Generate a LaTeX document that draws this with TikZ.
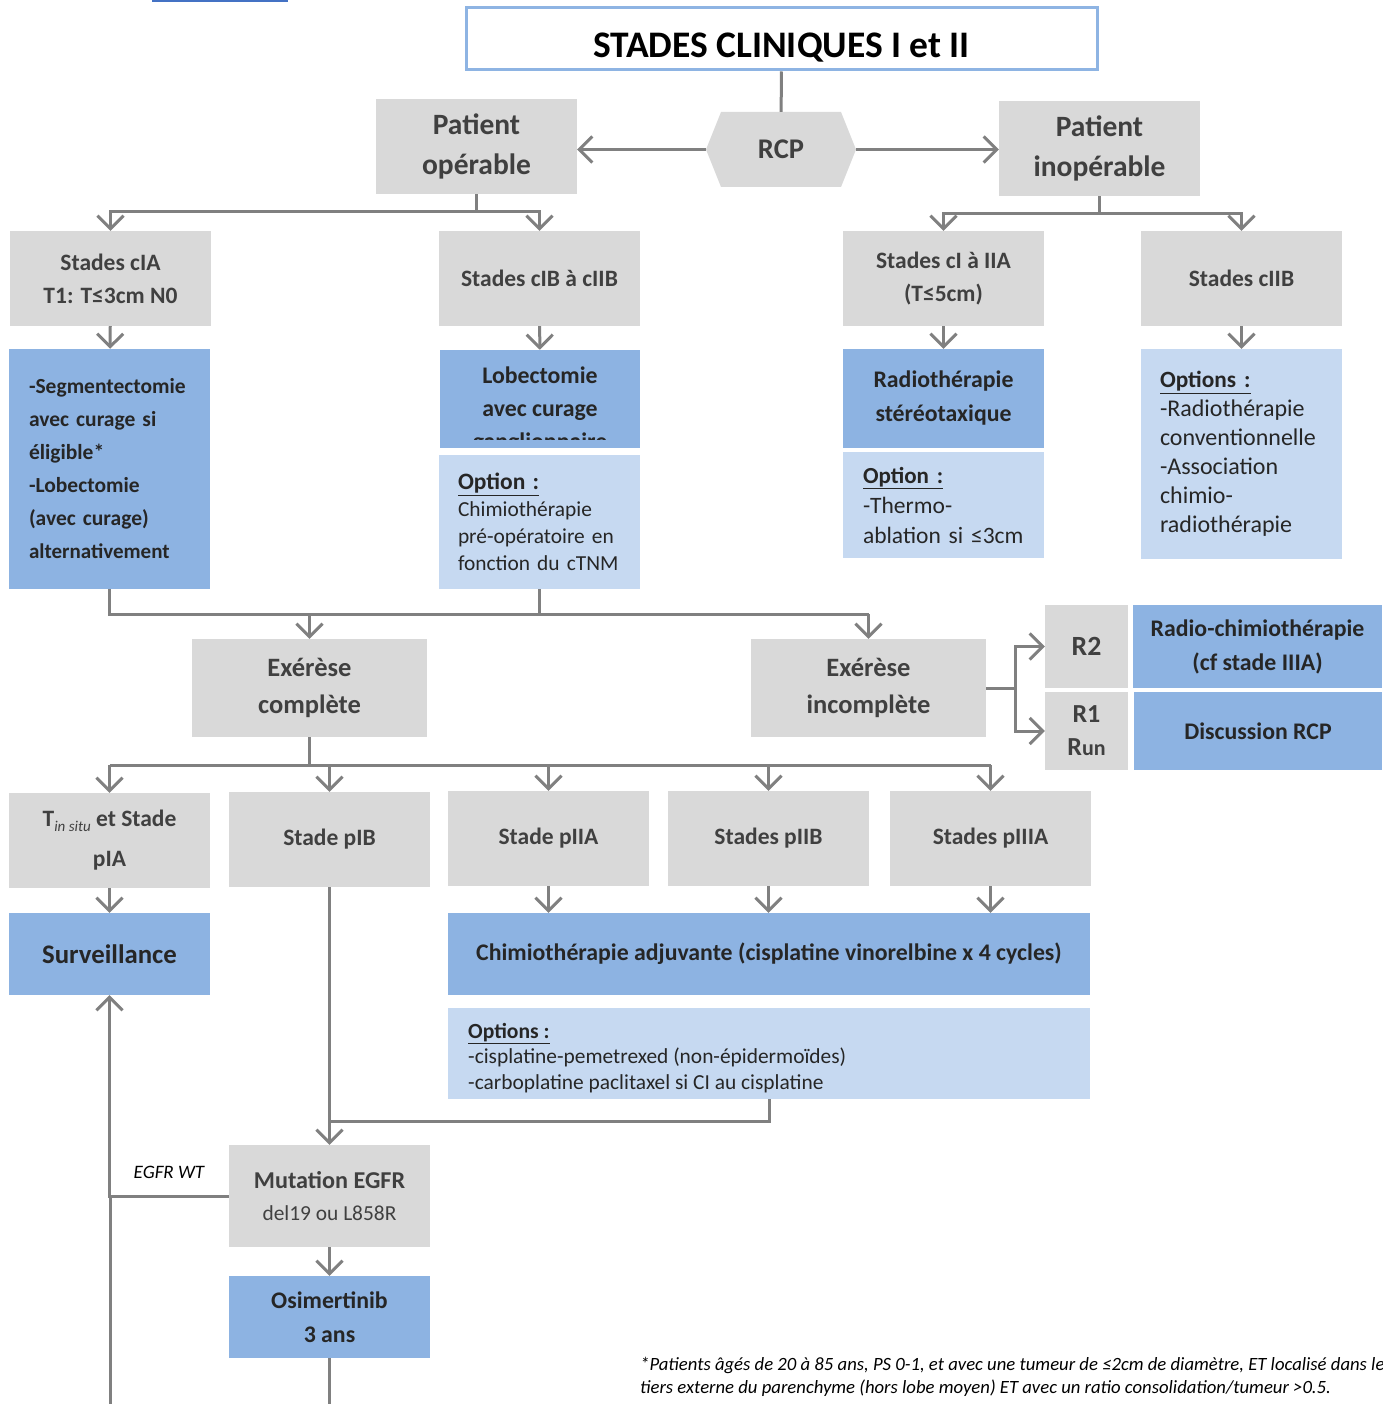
\documentclass[tikz,border=0pt]{standalone}
\usepackage{fontspec}
\setmainfont{Carlito}
\usetikzlibrary{arrows.meta}
\definecolor{boxgrey}{HTML}{D9D9D9}
\definecolor{bluedark}{HTML}{8DB3E2}
\definecolor{bluelight}{HTML}{C6D9F1}
\definecolor{titleborder}{HTML}{8EB4E3}
\definecolor{arrowgrey}{HTML}{808080}
\definecolor{greytext}{HTML}{404040}
\definecolor{darktext}{HTML}{262626}
\definecolor{topblue}{HTML}{4472C4}
\newcommand{\fsz}[2]{\fontsize{#1pt}{#2pt}\selectfont}
\begin{document}
\begin{tikzpicture}[x=1pt,y=-1pt]
			\tikzstyle{grey}=[fill=boxgrey,text=greytext,inner sep=0pt,align=center,font=\bfseries\fsz{23.5}{33}]
			\tikzstyle{big}=[grey,font=\bfseries\fsz{29.5}{40}]
			\tikzstyle{stage}=[grey,minimum width=201pt,minimum height=95pt]
			\tikzstyle{dark}=[fill=bluedark,text=darktext,inner sep=0pt,align=center,font=\bfseries\fsz{23.8}{34}]
			\tikzstyle{light}=[fill=bluelight,text=darktext,inner sep=0pt,align=left,font=\fsz{21.4}{27}]
			\tikzstyle{hexa}=[inner sep=0pt,minimum width=150pt,minimum height=75pt,text=greytext,font=\bfseries\fsz{28.5}{40},
				path picture={\fill[boxgrey] (path picture bounding box.west) -- ([xshift=15pt]path picture bounding box.north west)
				-- ([xshift=-15pt]path picture bounding box.north east) -- (path picture bounding box.east)
				-- ([xshift=-15pt]path picture bounding box.south east) -- ([xshift=15pt]path picture bounding box.south west) -- cycle;}]
			\tikzstyle{line}=[draw=arrowgrey,line width=3pt]
			\tikzstyle{arr}=[line,-{Straight Barb[length=13pt,width=26pt]}]
			\useasboundingbox (0,0) rectangle (1382,1404);
			\fill[topblue] (152,0) rectangle (288,2.5);
			
			\begin{scope}
			\node[draw=titleborder,line width=3pt,fill=white,minimum width=631pt,minimum height=62pt,inner sep=0pt,
				text height=38pt,text depth=0pt,font=\bfseries\fsz{37.5}{44}] (title) at (781.5,39) {STADES CLINIQUES I et II};
			\node[big,minimum width=201pt,minimum height=95pt] (pop) at (476.5,146.5) {Patient\\opérable};
			\node[hexa] (rcp) at (781,149.5) {RCP};
			\node[big,minimum width=201pt,minimum height=95pt] (pinop) at (1099.5,148.5) {Patient\\inopérable};
			
			\node[stage] (cia)  at (110.5,278.5)  {Stades cIA\\T1: T≤3cm N0};
			\node[stage] (cib)  at (539.5,278.5)  {Stades cIB à cIIB};
			\node[stage] (ci2a) at (943.5,278.5)  {Stades cI à IIA\\(T≤5cm)};
			\node[stage] (c2b)  at (1241.5,278.5) {Stades cIIB};
			
			\node[dark,font=\bfseries\fsz{21.5}{33},align=left,text width=161pt,minimum width=201pt,minimum height=240pt] (segm) at (109.5,469)
				{-Segmentectomie\\avec curage si\\éligible*\\-Lobectomie\\(avec curage)\\{\fsz{21}{33}alternativement}};
			\node[dark,minimum width=200pt,minimum height=98pt] (lobe) at (540,399) {};
			\node[light,text width=163pt,minimum width=201pt,minimum height=134pt] (opt1) at (539.5,522)
				{{\bfseries\fsz{23.5}{27}\underline{Option :}}\\Chimiothérapie\\pré-opératoire en\\fonction du cTNM};
			\node[dark,minimum width=201pt,minimum height=99pt] (radio) at (943.5,398.5) {Radiothérapie\\stéréotaxique};
			\node[light,font=\fsz{23.5}{30},text width=161pt,minimum width=201pt,minimum height=106pt] (opt2) at (943.5,505)
				{{\bfseries\fsz{23}{30}\underline{Option :}}\\-Thermo-\\ablation si ≤3cm};
			\node[light,font=\fsz{24}{29},text width=163pt,minimum width=201pt,minimum height=210pt] (opt3) at (1241.5,454)
				{{\bfseries\fsz{23.3}{29}\underline{Options :}}\\-Radiothérapie\\conventionnelle\\-Association\\chimio-\\radiothérapie};
			
			\node[big,font=\bfseries\fsz{26.5}{37},minimum width=235pt,minimum height=98pt] (exc) at (309.5,688) {Exérèse\\complète};
			\node[big,font=\bfseries\fsz{26.5}{37},minimum width=235pt,minimum height=98pt] (exi) at (868.5,688) {Exérèse\\incomplète};
			\node[grey,font=\bfseries\fsz{27.8}{33},minimum width=83pt,minimum height=83pt] (r2) at (1086.5,646.5) {R2};
			\node[grey,font=\bfseries\fsz{26}{33},minimum width=83pt,minimum height=78pt] (r1) at (1086.5,731) {R1\\R{\fsz{22}{33}un}};
			\node[dark,minimum width=249pt,minimum height=83pt] (rchimio) at (1257.5,646.5) {Radio-chimiothérapie\\(cf stade IIIA)};
			\node[dark,minimum width=248pt,minimum height=78pt] (disc) at (1258,731) {Discussion RCP};
			
			\node[stage,font=\bfseries\fsz{23.5}{40}] (pia) at (109.5,840.5)
				{T\raisebox{-5pt}{\mdseries\itshape\fsz{15}{15}in situ} et Stade\\pIA};
			\node[stage] (pib) at (329.5,839.5) {Stade pIB};
			\node[stage] (p2a) at (548.5,838.5) {Stade pIIA};
			\node[stage] (p2b) at (768.5,838.5) {Stades pIIB};
			\node[stage] (p3a) at (990.5,838.5) {Stades pIIIA};
			
			\node[dark,font=\bfseries\fsz{26.8}{30},minimum width=201pt,minimum height=82pt] (surv) at (109.5,954) {Surveillance};
			\node[dark,minimum width=642pt,minimum height=82pt] (adj) at (769,954) {Chimiothérapie adjuvante (cisplatine vinorelbine x 4 cycles)};
			\node[light,minimum width=642pt,minimum height=91pt] (opt4) at (769,1053.5) {};
			\node[grey,minimum width=201pt,minimum height=102pt,font=\bfseries\fsz{24.2}{32}] (egfr) at (329.5,1196)
				{Mutation EGFR\\{\mdseries\fsz{21.4}{32}del19 ou L858R}};
			\node[dark,minimum width=201pt,minimum height=82pt] (osim) at (329.5,1317) {Osimertinib\\3 ans};
			
			\node[inner sep=0pt,font=\itshape\fsz{19}{19}] (wt) at (169,1172) {EGFR WT};
			\node[inner sep=0pt,anchor=north west,align=left,font=\itshape\fsz{18.7}{23}] (note) at (640,1357)
				{*Patients âgés de 20 à 85 ans, PS 0-1, et avec une tumeur de ≤2cm de diamètre, ET localisé dans le\\
				tiers externe du parenchyme (hors lobe moyen) ET avec un ratio consolidation/tumeur >0.5.};
			\end{scope}
			
			% texts cut by their box
			\begin{scope}
			\clip ([yshift=9pt]lobe.south west) rectangle (lobe.north east);
			\node[inner sep=0pt,anchor=north,align=center,text=darktext,font=\bfseries\fsz{23.8}{33}] (lobetext) at (540,367)
				{Lobectomie\\avec curage\\ganglionnaire};
			\end{scope}
			\begin{scope}
			\clip ([yshift=5pt]opt4.south west) rectangle (opt4.north east);
			\node[inner sep=0pt,anchor=north west,align=left,text=darktext,font=\fsz{21.4}{25.5}] (opt4text) at (468,1023)
				{{\bfseries\fsz{21.6}{25.5}\underline{Options :}}\\-cisplatine-pemetrexed (non-épidermoïdes)\\-carboplatine paclitaxel si CI au cisplatine};
			\end{scope}
			
			\coordinate (jpop) at (476.5,212);
			\coordinate (jpin) at (1099.5,214);
			\coordinate (jexc) at (309.5,765);
			\coordinate (jr) at (1015,688);
			\coordinate (wtb) at (110,1420);
			
			\draw[line] (title) -- (rcp);
			\draw[arr] (rcp.west) -- (rcp.west -| pop.east);
			\draw[arr] (rcp.east) -- (rcp.east -| pinop.west);
			\draw[line] (pop) -- (jpop);
			\draw[arr] (jpop) -| (cia);
			\draw[arr] (jpop) -| (cib);
			\draw[line] (pinop) -- (jpin);
			\draw[arr] (jpin) -| (ci2a);
			\draw[arr] (jpin) -| (c2b);
			
			\path[arr]
			(cia) edge (segm)
			(cib) edge (lobe)
			(ci2a) edge (radio)
			(c2b) edge (opt3)
			;
			
			\draw[line] (segm) |- (exi |- 0,614);
			\draw[line] (opt1) -- (opt1 |- 0,614);
			\draw[arr] (exc |- 0,614) -- (exc);
			\draw[arr] (exi |- 0,614) -- (exi);
			\draw[line] (exi) -- (jr);
			\draw[arr] (jr) |- (r2);
			\draw[arr] (jr) |- (r1);
			
			\draw[line] (exc) -- (jexc);
			\draw[line] (pia |- jexc) -- (p3a |- jexc);
			\foreach \n in {pia,pib,p2a,p2b,p3a}
				\draw[arr] (\n |- jexc) -- (\n);
			\path[arr] (pia) edge (surv);
			\foreach \n in {p2a,p2b,p3a}
				\draw[arr] (\n) -- (\n |- adj.north);
			
			\draw[arr] (pib) -- (egfr);
			\draw[line] (opt4) |- (egfr |- 0,1121);
			\path[arr] (egfr) edge (osim);
			\draw[line] (osim) -- (osim |- wtb);
			\draw[arr] (egfr) -| (surv);
			\draw[line] (wtb) -- (wtb |- egfr);
\end{tikzpicture}
\end{document}
